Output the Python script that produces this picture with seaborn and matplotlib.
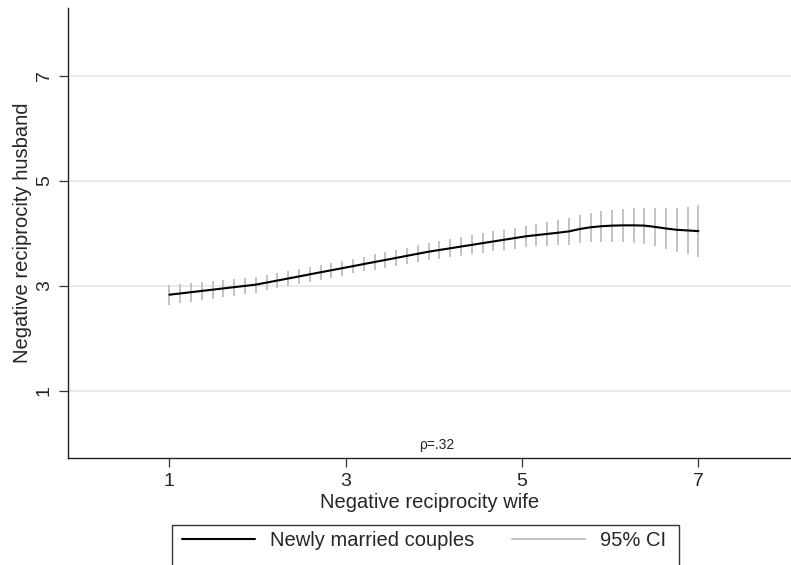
import numpy as np
import pandas as pd
import matplotlib
matplotlib.use("Agg")
import matplotlib.pyplot as plt
from matplotlib.lines import Line2D
from matplotlib.patches import Rectangle
import seaborn as sns

# Evaluation grid (negative reciprocity of the wife)
wife = [1.000, 1.122, 1.245, 1.367, 1.490, 1.612, 1.735, 1.857, 1.980, 2.102,
        2.224, 2.347, 2.469, 2.592, 2.714, 2.837, 2.959, 3.082, 3.204, 3.327,
        3.449, 3.571, 3.694, 3.816, 3.939, 4.061, 4.184, 4.306, 4.429, 4.551,
        4.673, 4.796, 4.918, 5.041, 5.163, 5.286, 5.408, 5.531, 5.653, 5.776,
        5.898, 6.020, 6.143, 6.265, 6.388, 6.510, 6.633, 6.755, 6.878, 7.000]

# Smoothed husband score
husband = [2.834, 2.858, 2.882, 2.906, 2.930, 2.954, 2.978, 3.002, 3.026, 3.065,
           3.104, 3.143, 3.182, 3.222, 3.261, 3.300, 3.339, 3.378, 3.418, 3.457,
           3.496, 3.535, 3.575, 3.614, 3.653, 3.686, 3.718, 3.751, 3.783, 3.816,
           3.848, 3.881, 3.913, 3.946, 3.969, 3.992, 4.015, 4.040, 4.085, 4.118,
           4.138, 4.150, 4.155, 4.155, 4.150, 4.125, 4.095, 4.070, 4.058, 4.045]

# Half-width of the 95% confidence interval
ci_half = [0.187, 0.184, 0.181, 0.177, 0.173, 0.168, 0.163, 0.158, 0.153, 0.150,
           0.147, 0.145, 0.143, 0.141, 0.140, 0.140, 0.140, 0.140, 0.141, 0.143,
           0.146, 0.150, 0.155, 0.160, 0.165, 0.168, 0.172, 0.176, 0.180, 0.185,
           0.190, 0.195, 0.200, 0.206, 0.215, 0.228, 0.240, 0.252, 0.265, 0.280,
           0.292, 0.305, 0.318, 0.330, 0.343, 0.365, 0.390, 0.416, 0.450, 0.490]

ticks = [1, 3, 5, 7]
rho_label = "ρ=.32"
series_label = "Newly married couples"
ci_label = "95% CI"

df = pd.DataFrame({"wife": wife, "husband": husband, "half": ci_half})
df["lo"] = df["husband"] - df["half"]
df["hi"] = df["husband"] + df["half"]

sns.set_style("white")
plt.rcParams["font.family"] = ["Liberation Sans", "DejaVu Sans"]

W, H = 791, 565
fig = plt.figure(figsize=(W / 100, H / 100), dpi=100)
ax = fig.add_axes([67.5 / W, 1 - 458.3 / H, (W - 67.5) / W, (458.3 - 8) / H])

ci_color = "#c3c3c3"
ax.vlines(df["wife"], df["lo"], df["hi"], color=ci_color, lw=1.4, zorder=2)
sns.lineplot(data=df, x="wife", y="husband", color="black", lw=1.5,
             ax=ax, zorder=3, legend=False)

ax.set_xlim(-0.156, 8.05)
ax.set_ylim(-0.282, 8.295)
ax.set_xticks(ticks)
ax.set_yticks(ticks)
ax.set_xticklabels([str(t) for t in ticks], fontsize=14)
ax.set_yticklabels([str(t) for t in ticks], fontsize=14, rotation=90, va="center")
for t in ticks:
    ax.axhline(t, color="#e6e6e6", lw=1.2, zorder=0)

ax.tick_params(axis="both", direction="out", length=6.5, width=0.9,
               color="#333333", bottom=True, left=True)
ax.tick_params(axis="x", pad=4)
ax.tick_params(axis="y", pad=4)
ax.set_xlabel("Negative reciprocity wife", fontsize=14.5, labelpad=2)
ax.set_ylabel("Negative reciprocity husband", fontsize=14.5, labelpad=3)

for side in ["top", "right"]:
    ax.spines[side].set_visible(False)
for side in ["left", "bottom"]:
    ax.spines[side].set_color("#222222")
    ax.spines[side].set_linewidth(1.0)

ax.text(4.03, -0.105, rho_label, fontsize=10, ha="center", va="baseline")

handles = [Line2D([], [], color="black", lw=1.5),
           Line2D([], [], color=ci_color, lw=1.4)]
fig.legend(handles, [series_label, ci_label], ncol=2, frameon=False,
           loc="upper left", bbox_to_anchor=(166 / W, 1 - 515 / H),
           fontsize=14.5, handlelength=3.6, handletextpad=0.75,
           columnspacing=1.9, borderpad=0.3)
fig.add_artist(Rectangle((172 / W, -0.05), (679 - 172) / W, 0.05 + 1 - 525 / H,
                         transform=fig.transFigure, fill=False,
                         edgecolor="#333333", lw=1.0, clip_on=False))

fig.savefig("out.png", dpi=100)
